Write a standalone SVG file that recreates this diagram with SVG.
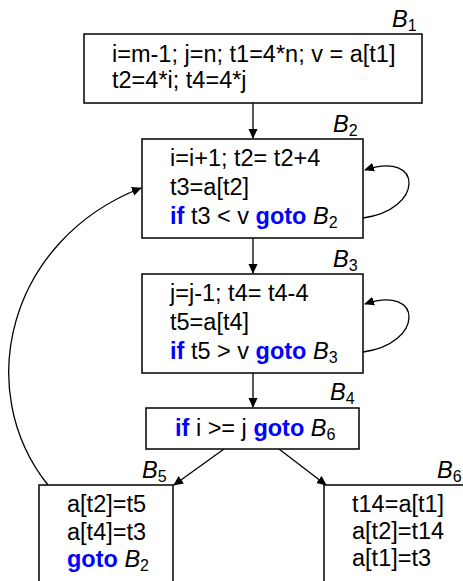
<svg xmlns="http://www.w3.org/2000/svg" width="463" height="581" viewBox="0 0 463 581">
<style>
text{font-family:"Liberation Sans",Arial,sans-serif;font-size:23.5px;fill:#000}
.kw{fill:#0000ff;font-weight:bold}
.it{font-style:italic}
.sub{font-size:16px}
.box{fill:#fff;stroke:#000;stroke-width:1.5}
.edge{fill:none;stroke:#000;stroke-width:1.3}
</style>
<defs>
<marker id="ah" viewBox="0 0 10 10" refX="9" refY="5" markerWidth="10" markerHeight="10" markerUnits="userSpaceOnUse" orient="auto">
<path d="M0,0.5 L10,5 L0,9.5 z" fill="#000"/>
</marker>
</defs>
<g id="connectors">
<line class="edge" x1="253" y1="103" x2="253" y2="138" marker-end="url(#ah)"/>
<line class="edge" x1="253" y1="238" x2="253" y2="273" marker-end="url(#ah)"/>
<line class="edge" x1="253" y1="373" x2="253" y2="407" marker-end="url(#ah)"/>
<line class="edge" x1="224" y1="449" x2="174" y2="485" marker-end="url(#ah)"/>
<line class="edge" x1="279" y1="449" x2="326" y2="485" marker-end="url(#ah)"/>
<path class="edge" d="M363,218 C424,210 424,150 365,170" marker-end="url(#ah)"/>
<path class="edge" d="M363,352 C424,344 424,284 365,304" marker-end="url(#ah)"/>
<path class="edge" d="M48,485 C-28,390 8,240 141,188" marker-end="url(#ah)"/>
</g>
<g id="B1">
<rect class="box" x="84" y="34" width="338" height="69"/>
<text x="112" y="62">i=m-1; j=n; t1=4*n; v = a[t1]</text>
<text x="112" y="88">t2=4*i; t4=4*j</text>
<text x="392" y="27"><tspan class="it">B</tspan><tspan class="sub" dy="4">1</tspan></text>
</g>
<g id="B2">
<rect class="box" x="142" y="139" width="221" height="99"/>
<text x="170" y="166">i=i+1; t2= t2+4</text>
<text x="170" y="195">t3=a[t2]</text>
<text x="170" y="224"><tspan class="kw">if</tspan> t3 &lt; v <tspan class="kw">goto</tspan> <tspan class="it">B</tspan><tspan class="sub" dy="4">2</tspan></text>
<text x="333" y="132"><tspan class="it">B</tspan><tspan class="sub" dy="4">2</tspan></text>
</g>
<g id="B3">
<rect class="box" x="142" y="274" width="221" height="99"/>
<text x="170" y="301">j=j-1; t4= t4-4</text>
<text x="170" y="330">t5=a[t4]</text>
<text x="170" y="359"><tspan class="kw">if</tspan> t5 &gt; v <tspan class="kw">goto</tspan> <tspan class="it">B</tspan><tspan class="sub" dy="4">3</tspan></text>
<text x="333" y="267"><tspan class="it">B</tspan><tspan class="sub" dy="4">3</tspan></text>
</g>
<g id="B4">
<rect class="box" x="146" y="408" width="213" height="41"/>
<text x="175" y="436"><tspan class="kw">if</tspan> i &gt;= j <tspan class="kw">goto</tspan> <tspan class="it">B</tspan><tspan class="sub" dy="4">6</tspan></text>
<text x="330" y="400"><tspan class="it">B</tspan><tspan class="sub" dy="4">4</tspan></text>
</g>
<g id="B5">
<rect class="box" x="39" y="485" width="134" height="110"/>
<text x="67" y="512">a[t2]=t5</text>
<text x="67" y="540">a[t4]=t3</text>
<text x="67" y="567"><tspan class="kw">goto</tspan> <tspan class="it">B</tspan><tspan class="sub" dy="4">2</tspan></text>
<text x="142" y="478"><tspan class="it">B</tspan><tspan class="sub" dy="4">5</tspan></text>
</g>
<g id="B6">
<rect class="box" x="324" y="485" width="150" height="110"/>
<text x="352" y="512">t14=a[t1]</text>
<text x="352" y="539">a[t2]=t14</text>
<text x="352" y="566">a[t1]=t3</text>
<text x="437" y="478"><tspan class="it">B</tspan><tspan class="sub" dy="4">6</tspan></text>
</g>
</svg>
